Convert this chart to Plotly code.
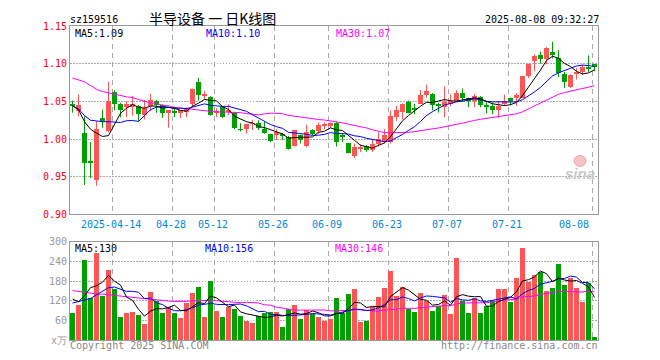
import numpy as np
import pandas as pd
import plotly.graph_objects as go

# ---------------- data ----------------
holidays = ["2025-04-04", "2025-05-01", "2025-05-02", "2025-05-05", "2025-06-02"]
dates = [d.strftime("%Y-%m-%d") for d in pd.bdate_range("2025-04-02", "2025-08-08")
         if d.strftime("%Y-%m-%d") not in holidays]

open_p = [1.047, 1.037, 1.008, 0.971, 0.945, 1.028, 1.011, 1.062, 1.047, 1.043,
          1.042, 1.044, 1.032, 1.044, 1.051, 1.045, 1.035, 1.036, 1.035, 1.036,
          1.047, 1.076, 1.058, 1.056, 1.035, 1.043, 1.037, 1.035, 1.013, 1.013,
          1.020, 1.021, 1.013, 1.007, 1.005, 1.006, 1.003, 0.991, 1.005, 0.991,
          1.012, 1.011, 1.018, 1.017, 1.021, 1.004, 0.995, 0.978, 0.987, 0.991,
          0.985, 0.994, 0.996, 0.996, 1.029, 1.036, 1.049, 1.040, 1.047, 1.058,
          1.060, 1.046, 1.042, 1.047, 1.051, 1.061, 1.055, 1.050, 1.056, 1.044,
          1.044, 1.038, 1.046, 1.055, 1.055, 1.055, 1.083, 1.103, 1.112, 1.106,
          1.115, 1.107, 1.086, 1.069, 1.086, 1.089, 1.096, 1.099]
high_p = [1.051, 1.059, 1.030, 0.996, 1.024, 1.039, 1.076, 1.065, 1.048, 1.050,
          1.057, 1.045, 1.052, 1.060, 1.052, 1.046, 1.038, 1.043, 1.038, 1.042,
          1.067, 1.081, 1.064, 1.057, 1.041, 1.044, 1.046, 1.036, 1.021, 1.020,
          1.025, 1.025, 1.023, 1.007, 1.013, 1.008, 1.004, 1.012, 1.006, 1.019,
          1.013, 1.022, 1.022, 1.022, 1.023, 1.008, 0.995, 0.994, 0.993, 0.992,
          0.999, 1.009, 1.013, 1.038, 1.044, 1.047, 1.051, 1.047, 1.065, 1.072,
          1.061, 1.048, 1.070, 1.059, 1.065, 1.067, 1.055, 1.060, 1.057, 1.049,
          1.049, 1.050, 1.059, 1.055, 1.061, 1.084, 1.100, 1.112, 1.116, 1.122,
          1.129, 1.118, 1.089, 1.086, 1.094, 1.099, 1.111, 1.099]
low_p = [1.035, 1.030, 0.939, 0.948, 0.938, 1.015, 1.009, 1.038, 1.029, 1.029,
         1.031, 1.024, 1.026, 1.037, 1.035, 1.028, 1.015, 1.029, 1.028, 1.029,
         1.042, 1.051, 1.052, 1.031, 1.029, 1.028, 1.032, 1.013, 1.010, 1.007,
         1.012, 1.012, 1.007, 0.996, 0.999, 0.999, 0.986, 0.990, 0.994, 0.989,
         1.005, 1.007, 1.013, 1.015, 0.990, 0.996, 0.981, 0.975, 0.983, 0.983,
         0.983, 0.990, 0.994, 0.994, 1.024, 1.026, 1.034, 1.033, 1.047, 1.055,
         1.038, 1.035, 1.029, 1.044, 1.049, 1.049, 1.042, 1.042, 1.042, 1.034,
         1.033, 1.028, 1.044, 1.045, 1.044, 1.054, 1.081, 1.090, 1.100, 1.099,
         1.107, 1.082, 1.068, 1.068, 1.079, 1.085, 1.089, 1.090]
close_p = [1.044, 1.045, 0.968, 0.969, 1.013, 1.022, 1.051, 1.047, 1.038, 1.046,
           1.047, 1.033, 1.041, 1.052, 1.045, 1.034, 1.038, 1.035, 1.038, 1.040,
           1.067, 1.058, 1.060, 1.032, 1.036, 1.029, 1.039, 1.015, 1.012, 1.020,
           1.021, 1.015, 1.008, 0.997, 1.009, 1.005, 0.987, 1.012, 0.999, 1.009,
           1.007, 1.018, 1.019, 1.021, 0.996, 1.003, 0.982, 0.989, 0.989, 0.986,
           0.994, 1.000, 1.005, 1.031, 1.038, 1.047, 1.035, 1.039, 1.059, 1.064,
           1.045, 1.045, 1.049, 1.051, 1.061, 1.054, 1.050, 1.057, 1.045, 1.043,
           1.039, 1.044, 1.051, 1.051, 1.058, 1.084, 1.100, 1.110, 1.106, 1.121,
           1.112, 1.087, 1.076, 1.085, 1.089, 1.095, 1.094, 1.096]
volume = [82, 108, 244, 130, 265, 136, 214, 155, 70, 82,
          85, 78, 49, 147, 120, 82, 100, 83, 67, 115,
          144, 162, 70, 180, 88, 70, 100, 96, 75, 60,
          52, 75, 82, 85, 85, 40, 96, 108, 66, 93,
          80, 70, 60, 65, 130, 83, 141, 157, 55, 60,
          100, 133, 160, 211, 135, 162, 95, 85, 145, 120,
          88, 105, 139, 79, 250, 120, 82, 130, 82, 103,
          120, 155, 157, 117, 190, 282, 177, 198, 207, 150,
          160, 232, 168, 190, 160, 117, 175, 9]

# moving-average values before the window is full
ma5_head = [1.044, 1.039, 1.023, 1.013]
ma10_head = [1.044, 1.040, 1.031, 1.025, 1.024, 1.023, 1.023, 1.022, 1.022]
ma30_head = [1.081, 1.079, 1.076, 1.071, 1.066, 1.063, 1.061, 1.059, 1.057, 1.056,
             1.055, 1.052, 1.050, 1.048, 1.047, 1.045, 1.044, 1.042, 1.041, 1.040,
             1.039, 1.038, 1.037, 1.037, 1.036, 1.036, 1.036, 1.035, 1.035]
vma5_head = [125, 117, 135, 160]
vma10_head = [113, 118, 122, 127, 138, 150, 160, 162, 156]
vma30_head = [151, 148, 145, 143, 141, 140, 138, 136, 134, 132, 130, 128, 125, 123, 121,
              120, 119, 118, 117, 118, 120, 121, 122, 121, 120, 118, 117, 116, 114]

price_ticks = [0.90, 0.95, 1.00, 1.05, 1.10, 1.15]
vol_ticks = [0, 60, 120, 180, 240, 300]
vol_tick_text = ["x万", "60", "120", "180", "240", "300"]
label_dates = ["2025-04-14", "2025-04-28", "2025-05-12", "2025-05-26", "2025-06-09",
               "2025-06-23", "2025-07-07", "2025-07-21", "2025-08-08"]
label_texts = ["2025-04-14", "04-28", "05-12", "05-26", "06-09",
               "06-23", "07-07", "07-21", "08-08"]

code_text = "sz159516"
title_text = "半导设备 一 日K线图"
time_text = "2025-08-08 09:32:27"
price_ma_labels = ["MA5:1.09", "MA10:1.10", "MA30:1.07"]
vol_ma_labels = ["MA5:130", "MA10:156", "MA30:146"]

# ---------------- helpers ----------------
UP = "#FF5555"
DOWN = "#00A000"
MONO = "DejaVu Sans Mono"
GRID = "#AAAAAA"
FRAME = "#999999"


def moving_avg(values, n, head):
    s = pd.Series(values, dtype=float).rolling(n).mean()
    s.iloc[:n - 1] = head
    return s.tolist()


n = len(dates)
xi = np.arange(n)
o = np.array(open_p)
c = np.array(close_p)
h = np.array(high_p)
l = np.array(low_p)
up = c >= o
colors = np.where(up, UP, DOWN)

body_base = np.minimum(o, c)
body_h = np.maximum(np.abs(c - o), 0.0012)

fig = go.Figure()

# candle wicks
for mask, col in ((up, UP), (~up, DOWN)):
    wx, wy = [], []
    for i in xi[mask]:
        wx += [i, i, None]
        wy += [l[i], h[i], None]
    fig.add_trace(go.Scatter(x=wx, y=wy, mode="lines", line=dict(color=col, width=1),
                             hoverinfo="skip", showlegend=False, xaxis="x", yaxis="y"))

# candle bodies
fig.add_trace(go.Bar(x=xi, y=body_h, base=body_base, width=5 / 6,
                     marker=dict(color=colors, line=dict(width=0)),
                     customdata=np.stack([o, h, l, c], axis=1), hovertext=dates,
                     hovertemplate="%{hovertext}<br>O %{customdata[0]}<br>H %{customdata[1]}"
                                   "<br>L %{customdata[2]}<br>C %{customdata[3]}<extra></extra>",
                     showlegend=False, xaxis="x", yaxis="y"))

# price MAs
for vals, col in ((moving_avg(close_p, 30, ma30_head), "#FF00FF"),
                  (moving_avg(close_p, 10, ma10_head), "#0000FF"),
                  (moving_avg(close_p, 5, ma5_head), "#000000")):
    fig.add_trace(go.Scatter(x=xi, y=vals, mode="lines", line=dict(color=col, width=1),
                             hoverinfo="skip", showlegend=False, xaxis="x", yaxis="y"))

# volume bars
fig.add_trace(go.Bar(x=xi, y=volume, width=5 / 6, marker=dict(color=colors, line=dict(width=0)),
                     hovertext=dates, showlegend=False, xaxis="x2", yaxis="y2"))
for vals, col in ((moving_avg(volume, 30, vma30_head), "#FF00FF"),
                  (moving_avg(volume, 10, vma10_head), "#0000FF"),
                  (moving_avg(volume, 5, vma5_head), "#000000")):
    fig.add_trace(go.Scatter(x=xi, y=vals, mode="lines", line=dict(color=col, width=1),
                             hoverinfo="skip", showlegend=False, xaxis="x2", yaxis="y2"))

# ---------------- layout ----------------
# page is drawn with the browser's default 8px body margin; size the figure so
# that the plot lands on the same page pixels as the reference
OFF = 8
PAGE_W, PAGE_H = 660, 360
W, H = PAGE_W - OFF, PAGE_H - OFF
PL, PR, PT, PB = 70, 598, 20, 340          # plot area, page pixels
L, R, T, B = PL - OFF, PAGE_W - PR, PT - OFF, PAGE_H - PB
PW, PH = PR - PL, PB - PT


def px_x(px):
    return (px - PL) / PW


def px_y(py):
    return (PB - py) / PH


xrange = [-2.5 / 6, n - 1 + 3.5 / 6]
grid_pos = [dates.index(d) - 2.5 / 6 for d in label_dates]

xcommon = dict(range=xrange, tickvals=grid_pos, showticklabels=False, ticks="",
               showgrid=True, gridcolor=GRID, gridwidth=1, griddash="5px,4px",
               showline=True, mirror=True, linecolor=FRAME, linewidth=1, zeroline=False,
               fixedrange=True)

fig.update_layout(
    width=W, height=H, margin=dict(l=L, r=R, t=T, b=B),
    paper_bgcolor="white", plot_bgcolor="white", bargap=0, barmode="overlay",
    font=dict(family=MONO, size=10, color="#000000"),
    xaxis=dict(anchor="y", domain=[0, 1], **xcommon),
    xaxis2=dict(anchor="y2", domain=[0, 1], matches="x", **xcommon),
    yaxis=dict(domain=[px_y(212), 1], range=[0.90, 1.15], tickvals=price_ticks,
               ticktext=["%.2f" % v for v in price_ticks], ticks="",
               tickfont=dict(color="#FF0000", family=MONO, size=10),
               showgrid=True, gridcolor=GRID, griddash="1.5px,1.5px",
               showline=True, mirror=True, linecolor=FRAME, zeroline=False, fixedrange=True),
    yaxis2=dict(domain=[0, px_y(240)], range=[0, 300], tickvals=vol_ticks,
                ticktext=vol_tick_text, ticks="",
                tickfont=dict(color="#999999", family=MONO, size=10),
                showgrid=True, gridcolor=GRID, griddash="1.5px,1.5px",
                showline=True, mirror=True, linecolor=FRAME, zeroline=False, fixedrange=True),
    showlegend=False,
)

ann = []


def add_text(text, px, py, anchor="left", color="#000000", size=10, family=MONO, **kw):
    ann.append(dict(text=text, x=px_x(px), y=px_y(py), xref="paper", yref="paper",
                    xanchor=anchor, yanchor="middle", showarrow=False, borderpad=0,
                    font=dict(color=color, size=size, family=family), **kw))


add_text(code_text, 69, 13)
add_text(title_text, 148, 11.5, size=14, family="Noto Sans CJK SC")
add_text(time_text, 600, 13, anchor="right")

for txt, px, col in zip(price_ma_labels, (74, 205, 335), ("#000000", "#0000FF", "#FF00FF")):
    add_text(txt, px, 28, color=col)
for txt, px, col in zip(vol_ma_labels, (74, 204, 334), ("#000000", "#0000FF", "#FF00FF")):
    add_text(txt, px, 247, color=col)

for d, t in zip(label_dates, label_texts):
    gx = dates.index(d) - 2.5 / 6
    last = d == label_dates[-1]
    ann.append(dict(text=t, x=gx - (0.25 if last else 0.17), y=px_y(222), xref="x", yref="paper",
                    xanchor="right" if last else "center", yanchor="middle", showarrow=False,
                    font=dict(color="#0088DD", size=10, family=MONO)))

add_text("Copyright 2025 SINA.COM", 69, 346, color="#888888")
add_text("http://finance.sina.com.cn", 599, 346, anchor="right", color="#888888")
add_text("<b><i>sina</i></b>", 580, 170, anchor="center", color="#C9C9C9", size=15,
         family="Liberation Sans")

fig.update_layout(annotations=ann)

# pale red "eye" of the watermark logo
fig.add_shape(type="circle", xref="paper", yref="paper",
              x0=px_x(574), x1=px_x(586), y0=px_y(163), y1=px_y(152),
              fillcolor="#F6C4C4", line=dict(color="#EFA0A0", width=1), layer="below")

fig.write_html("out.html")
